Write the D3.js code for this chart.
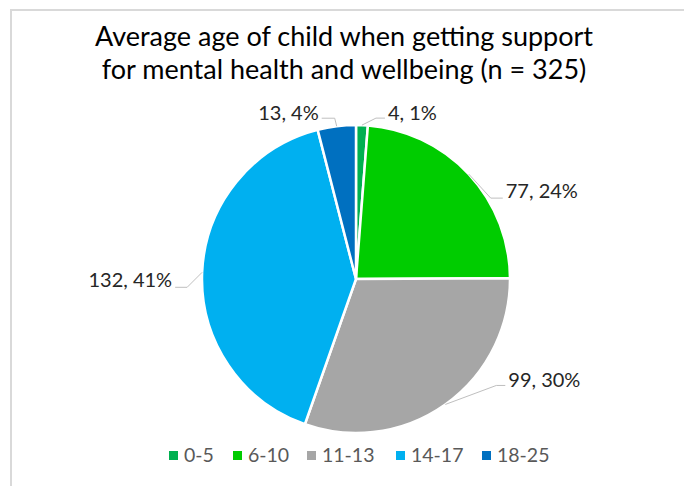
<!DOCTYPE html>
<html><head><meta charset="utf-8">
<script src="https://cdn.jsdelivr.net/npm/d3@7"></script>
<style>
html,body{margin:0;padding:0;background:#fff;}
svg{display:block;font-family:Lato,"Open Sans",sans-serif;}
</style></head>
<body>
<svg id="chart" width="684" height="486"></svg>
<script>
// ---- data ----
const categories = ["0-5", "6-10", "11-13", "14-17", "18-25"];
const counts = [4, 77, 99, 132, 13];
const percentLabels = ["1%", "24%", "30%", "41%", "4%"];
const titleLines = ["Average age of child when getting support", "for mental health and wellbeing (n = 325)"];

// ---- style / layout ----
const colors = ["#00B050", "#00CC00", "#A6A6A6", "#00B0F0", "#0070C0"];
const W = 684, H = 486;
const cx = 356, cy = 279, R = 154;
// leader elbow offset and text offset relative to the slice's outer mid point
const labelLayout = [
  {ex: 14, ey: -7, tx: 26, ty: -5, anchor: "start"},
  {ex: 22, ey: 24, tx: 37, ty: 24, anchor: "start"},
  {ex: 51, ey: -19, tx: 63, ty: -17, anchor: "start"},
  {ex: -15, ey: 15, tx: -30, ty: 15, anchor: "end"},
  {ex: -2, ey: -8, tx: -18, ty: -6, anchor: "end"}
];

const svg = d3.select("#chart");

// border
svg.append("path")
  .attr("d", `M11,${H} L11,10 L${W},10`)
  .attr("fill", "none").attr("stroke", "#D9D9D9").attr("stroke-width", 2);

// title
svg.append("g").selectAll("text").data(titleLines).join("text")
  .attr("x", 344).attr("y", (d, i) => 46 + i * 33)
  .attr("text-anchor", "middle")
  .attr("font-size", 27).attr("fill", "#000")
  .text(d => d);

// pie
const pie = d3.pie().sort(null).value(d => d)(counts);
const arc = d3.arc().innerRadius(0).outerRadius(R);
const g = svg.append("g").attr("transform", `translate(${cx},${cy})`);
g.selectAll("path").data(pie).join("path")
  .attr("d", arc)
  .attr("fill", (d, i) => colors[i])
  .attr("stroke", "#fff").attr("stroke-width", 2.5).attr("stroke-linejoin", "round");

// labels with leader lines
const outerPt = d => {
  const a = (d.startAngle + d.endAngle) / 2;
  return [Math.sin(a) * R, -Math.cos(a) * R];
};
pie.forEach((d, i) => {
  const [ox, oy] = outerPt(d);
  const L = labelLayout[i];
  const exx = ox + L.ex, eyy = oy + L.ey;
  const hx = ox + L.tx + (L.anchor === "start" ? -3 : 3);
  g.append("path")
    .attr("d", `M${ox},${oy} L${exx},${eyy} L${hx},${eyy}`)
    .attr("fill", "none").attr("stroke", "#BFBFBF").attr("stroke-width", 1);
  g.append("text")
    .attr("x", ox + L.tx).attr("y", oy + L.ty)
    .attr("text-anchor", L.anchor)
    .attr("font-size", 20).attr("fill", "#262626")
    .text(`${counts[i]}, ${percentLabels[i]}`);
});

// legend
const legendX = [169, 233, 307, 396, 482];
const lg = svg.append("g");
categories.forEach((c, i) => {
  lg.append("rect").attr("x", legendX[i]).attr("y", 451).attr("width", 9).attr("height", 9).attr("fill", colors[i]);
  lg.append("text").attr("x", legendX[i] + 15).attr("y", 462)
    .attr("font-size", 19.5).attr("fill", "#595959").text(c);
});
</script>
</body></html>
